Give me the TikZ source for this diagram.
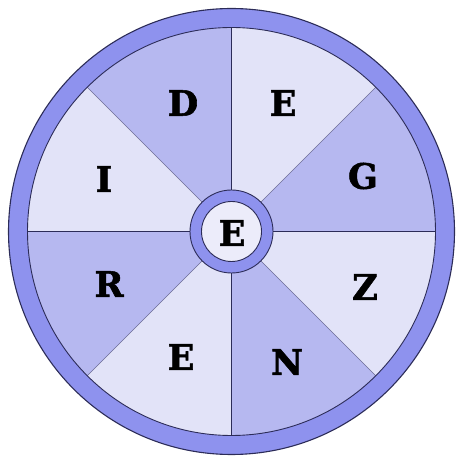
\documentclass[tikz,border=0pt]{standalone}
\usepackage{fontspec}
\newfontfamily\letterfont{DejaVu Serif}[BoldFeatures={FakeBold=1.6}]
\definecolor{ringc}{HTML}{8E92EE}
\definecolor{darks}{HTML}{B6B8F0}
\definecolor{lights}{HTML}{E2E3F8}
\definecolor{centc}{HTML}{ECECFA}
\definecolor{edgec}{HTML}{2C2C58}
\definecolor{diagc}{HTML}{6C6C96}
\begin{document}
\begin{tikzpicture}[x=1pt,y=1pt,
  letter/.style={font=\letterfont\bfseries\fontsize{35}{35}\selectfont, text=black, inner sep=0pt}]
\useasboundingbox (0,0) rectangle (457,458);
\coordinate (c) at (231.5,226.5);
% outer ring
\fill[ringc] (c) circle (223);
\draw[edgec, line width=1.1pt] (c) circle (223);
% sectors
\foreach \a/\col in {0/darks,45/lights,90/darks,135/lights,180/darks,225/lights,270/darks,315/lights}{
  \fill[\col] (c) -- ++(\a:204) arc[start angle=\a, end angle=\a+45, radius=204] -- cycle;
}
% dividing lines
\foreach \a in {45,135,225,315}{
  \draw[diagc, line width=0.5pt] (c) -- ++(\a:204);
}
\foreach \a in {0,90,180,270}{
  \draw[edgec, line width=0.8pt] (c) -- ++(\a:204);
}
\draw[edgec, line width=0.9pt] (c) circle (204);
% central ring
\fill[ringc] (c) circle (41.5);
\draw[edgec, line width=0.9pt] (c) circle (41.5);
\fill[centc] (c) circle (30);
\draw[edgec, line width=0.9pt] (c) circle (30);
% letters
\node[letter] (lD) at (183,355) {D};
\node[letter] (lE1) at (283,355) {E};
\node[letter] (lG) at (363,282) {G};
\node[letter] (lI) at (104,279) {I};
\node[letter] (lR) at (109,174) {R};
\node[letter] (lZ) at (365,171) {Z};
\node[letter] (lE2) at (181,101) {E};
\node[letter] (lN) at (287,96) {N};
\node[letter] (lC) at (232,225) {E};
\end{tikzpicture}
\end{document}
